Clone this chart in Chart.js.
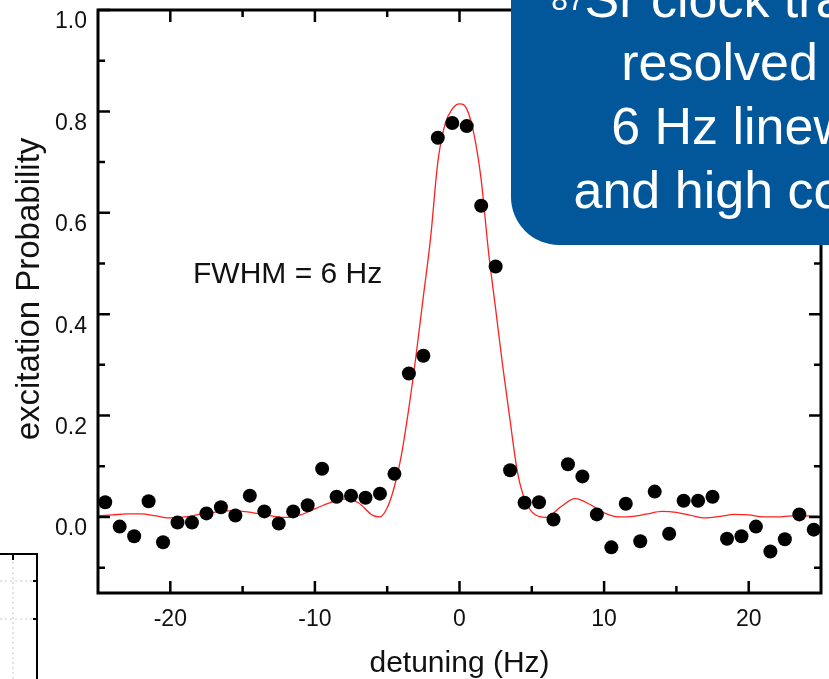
<!DOCTYPE html>
<html>
<head>
<meta charset="utf-8">
<script src="https://cdn.jsdelivr.net/npm/chart.js@4.4.1/dist/chart.umd.min.js"></script>
<style>
  html, body { margin: 0; padding: 0; background: #fff; }
  #wrap { width: 829px; height: 679px; }
</style>
</head>
<body>
<div id="wrap"><canvas id="rabiChart" width="829" height="679"></canvas></div>
<script>
// measured points (Hz, probability)
const detuning = [-24.5, -23.5, -22.5, -21.5, -20.5, -19.5, -18.5, -17.5, -16.5, -15.5,
  -14.5, -13.5, -12.5, -11.5, -10.5, -9.5, -8.5, -7.5, -6.5, -5.5,
  -4.5, -3.5, -2.5, -1.5, -0.5, 0.5, 1.5, 2.5, 3.5, 4.5,
  5.5, 6.5, 7.5, 8.5, 9.5, 10.5, 11.5, 12.5, 13.5, 14.5,
  15.5, 16.5, 17.5, 18.5, 19.5, 20.5, 21.5, 22.5, 23.5, 24.5];
const excitation = [0.029, -0.019, -0.038, 0.031, -0.050, -0.011, -0.011, 0.007, 0.019, 0.003,
  0.042, 0.011, -0.013, 0.011, 0.023, 0.095, 0.040, 0.042, 0.038, 0.046,
  0.085, 0.283, 0.318, 0.748, 0.777, 0.771, 0.614, 0.494, 0.092, 0.028,
  0.029, -0.005, 0.104, 0.080, 0.005, -0.060, 0.026, -0.048, 0.050, -0.033,
  0.032, 0.032, 0.040, -0.043, -0.038, -0.019, -0.068, -0.044, 0.005, -0.025];

// fitted line shape
const fitDetuning = [-25, -24, -23, -22, -21, -20, -19, -18, -17, -16, -15, -14, -13, -12, -11, -10, -9, -8, -7, -6,
  -5.5, -5, -4.5, -4, -3.5, -3, -2.5, -2, -1.5, -1, -0.5, 0, 0.5, 1, 1.5, 2, 2.5, 3, 3.5, 4, 4.5, 5, 5.5,
  6, 7, 8, 9, 10, 11, 12, 13, 14, 15, 16, 17, 18, 19, 20, 21, 22, 23, 24, 25];
const fitExcitation = [0.002, 0.004, 0.006, 0.006, 0.002, -0.002, 0.000, 0.005, 0.009, 0.012, 0.011, 0.007, 0.002, -0.001, 0.004, 0.016, 0.028, 0.035, 0.028, 0.003,
  0.000, 0.018, 0.060, 0.125, 0.215, 0.320, 0.435, 0.550, 0.700, 0.775, 0.805, 0.815, 0.805, 0.755, 0.665, 0.525, 0.410, 0.295, 0.190, 0.090, 0.035, 0.010, 0.001,
  -0.001, 0.020, 0.036, 0.025, 0.008, 0.000, 0.001, 0.006, 0.011, 0.009, 0.003, -0.002, 0.001, 0.005, 0.004, 0.000, 0.000, 0.002, 0.002, 0.001];

const xTicks = [-20, -10, 0, 10, 20];
const xMinorTicks = [-15, -5, 5, 15];
const yTicks = [0.0, 0.2, 0.4, 0.6, 0.8, 1.0];
const yMinorTicks = [-0.1, 0.1, 0.3, 0.5, 0.7, 0.9];

const boxLines = ["Sr clock transition", "resolved with", "6 Hz linewidth", "and high contrast"];
const FONT = "'Liberation Sans', Arial, sans-serif";

// frame with inward ticks on all four sides, plus the extra texts
const framePlugin = {
  id: "frame",
  afterDraw(chart) {
    const { ctx, chartArea: a, scales } = chart;
    ctx.save();
    ctx.strokeStyle = "#000";
    ctx.lineWidth = 2.5;
    const tick = (vals, len) => {
      vals.forEach(v => {
        const px = scales.x.getPixelForValue(v);
        ctx.beginPath();
        ctx.moveTo(px, a.bottom); ctx.lineTo(px, a.bottom - len);
        ctx.moveTo(px, a.top); ctx.lineTo(px, a.top + len);
        ctx.stroke();
      });
    };
    const ytick = (vals, len) => {
      vals.forEach(v => {
        const py = scales.y.getPixelForValue(v);
        ctx.beginPath();
        ctx.moveTo(a.left, py); ctx.lineTo(a.left + len, py);
        ctx.moveTo(a.right, py); ctx.lineTo(a.right - len, py);
        ctx.stroke();
      });
    };
    tick(xTicks, 12); tick(xMinorTicks, 7);
    ytick(yTicks, 12); ytick(yMinorTicks, 7);
    ctx.lineWidth = 3;
    ctx.strokeRect(a.left, a.top, a.right - a.left, a.bottom - a.top);

    // y axis title
    ctx.fillStyle = "#111";
    ctx.save();
    ctx.translate(30, 289);
    ctx.rotate(-Math.PI / 2);
    ctx.font = "33px " + FONT;
    ctx.textAlign = "center";
    ctx.textBaseline = "middle";
    ctx.fillText("excitation Probability", 0, 0);
    ctx.restore();

    // label inside the plot
    ctx.font = "30px " + FONT;
    ctx.textBaseline = "alphabetic";
    ctx.fillText("FWHM = 6 Hz", 193, 283);

    // piece of a neighbouring figure, bottom left
    ctx.lineWidth = 1;
    ctx.strokeStyle = "#c8c8c8";
    ctx.setLineDash([2, 3]);
    ctx.beginPath();
    ctx.moveTo(0, 581); ctx.lineTo(33, 581);
    ctx.moveTo(0, 619); ctx.lineTo(33, 619);
    ctx.moveTo(13, 557); ctx.lineTo(13, 679);
    ctx.stroke();
    ctx.setLineDash([]);
    ctx.strokeStyle = "#000";
    ctx.lineWidth = 2;
    ctx.beginPath();
    ctx.moveTo(0, 554); ctx.lineTo(37, 554); ctx.lineTo(37, 679);
    ctx.moveTo(13, 554); ctx.lineTo(13, 560);
    ctx.moveTo(33, 581); ctx.lineTo(37, 581);
    ctx.moveTo(33, 619); ctx.lineTo(37, 619);
    ctx.stroke();

    // blue call-out box
    ctx.fillStyle = "#02569a";
    ctx.beginPath();
    ctx.roundRect(511, -120, 520, 365, 48);
    ctx.fill();
    ctx.fillStyle = "#fff";
    const cx = 773;
    ctx.font = "52px " + FONT;
    const w1 = ctx.measureText(boxLines[0]).width;
    ctx.font = "30px " + FONT;
    const wSup = ctx.measureText("87").width;
    const x0 = cx - (w1 + wSup) / 2;
    ctx.textAlign = "left";
    ctx.fillText("87", x0, 10);
    ctx.font = "52px " + FONT;
    ctx.fillText(boxLines[0], x0 + wSup, 17);
    ctx.textAlign = "center";
    ctx.fillText(boxLines[1], cx, 80);
    ctx.fillText(boxLines[2], cx, 144);
    ctx.fillText(boxLines[3], cx, 208);
    ctx.restore();
  }
};

new Chart(document.getElementById("rabiChart"), {
  type: "scatter",
  data: {
    datasets: [
      {
        label: "fit",
        data: fitDetuning.map((x, i) => ({ x: x, y: fitExcitation[i] })),
        showLine: true,
        pointRadius: 0,
        borderColor: "#ff2020",
        borderWidth: 1.3,
        cubicInterpolationMode: "monotone",
        order: 2
      },
      {
        label: "data",
        data: detuning.map((x, i) => ({ x: x, y: excitation[i] })),
        pointRadius: 7,
        pointBackgroundColor: "#000",
        pointBorderColor: "#000",
        pointBorderWidth: 0,
        order: 1
      }
    ]
  },
  options: {
    responsive: false,
    animation: false,
    layout: { padding: { top: 10, right: 8, left: 0, bottom: 0 } },
    plugins: { legend: { display: false }, tooltip: { enabled: false } },
    scales: {
      x: {
        type: "linear",
        min: -25,
        max: 25,
        afterBuildTicks: s => { s.ticks = xTicks.map(v => ({ value: v })); },
        afterFit: s => { s.height = 86; s.paddingLeft = 0; s.paddingRight = 0; },
        grid: { display: false, drawTicks: false },
        border: { display: false },
        ticks: { color: "#111", font: { family: FONT, size: 23 }, padding: 13, maxRotation: 0 },
        title: { display: true, text: "detuning (Hz)", color: "#111", font: { family: FONT, size: 30, lineHeight: 1 }, padding: 0 }
      },
      y: {
        type: "linear",
        min: -0.15,
        max: 1.0,
        afterBuildTicks: s => { s.ticks = yTicks.map(v => ({ value: v })); },
        afterFit: s => { s.width = 98; s.paddingTop = 0; s.paddingBottom = 0; },
        grid: { display: false, drawTicks: false },
        border: { display: false },
        ticks: { color: "#111", font: { family: FONT, size: 23 }, padding: 11, labelOffset: 12, callback: v => v.toFixed(1) },
        title: { display: false }
      }
    }
  },
  plugins: [framePlugin]
});
</script>
</body>
</html>
